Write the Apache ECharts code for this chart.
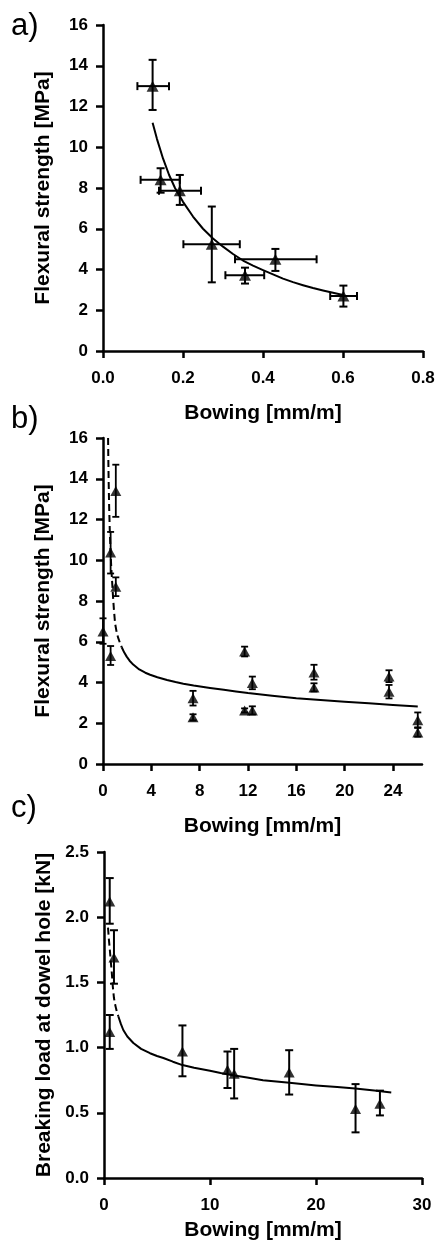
<!DOCTYPE html>
<html>
<head>
<meta charset="utf-8">
<script src="https://cdn.jsdelivr.net/npm/echarts@6/dist/echarts.min.js"></script>
<style>
  html, body { margin: 0; padding: 0; background: #fff; }
  #chart { width: 439px; height: 1253px; }
</style>
</head>
<body>
<div id="chart"></div>
<script>
// panel a: flexural strength vs bowing (lab samples)
const aX = [0.124, 0.144, 0.192, 0.272, 0.355, 0.431, 0.601];
const aY = [13.0, 8.4, 7.87, 5.24, 3.72, 4.5, 2.7];
const aYLow = [11.83, 7.77, 7.17, 3.37, 3.31, 3.93, 2.18];
const aYHigh = [14.29, 8.97, 8.64, 7.09, 4.09, 5.01, 3.21];
const aXLow = [0.086, 0.094, 0.14, 0.201, 0.306, 0.33, 0.568];
const aXHigh = [0.165, 0.192, 0.245, 0.342, 0.403, 0.534, 0.635];
const aFitX = [0.124, 0.135, 0.15, 0.165, 0.18, 0.2, 0.225, 0.25, 0.275, 0.3, 0.325, 0.35, 0.375, 0.4, 0.425, 0.45, 0.475, 0.5, 0.525, 0.55, 0.575, 0.6];
const aFitY = [11.2, 10.4, 9.45, 8.65, 8.0, 7.32, 6.6, 6.0, 5.52, 5.12, 4.76, 4.44, 4.19, 3.97, 3.76, 3.55, 3.38, 3.23, 3.09, 2.97, 2.86, 2.75];

// panel b: flexural strength vs bowing (field samples)
const bX = [0, 0.63, 0.63, 1.06, 1.06, 7.45, 7.45, 11.72, 11.72, 12.36, 12.36, 17.46, 17.46, 23.67, 23.67, 26.05, 26.05];
const bY = [6.5, 5.3, 10.38, 13.4, 8.7, 3.23, 2.29, 5.52, 2.63, 3.97, 2.63, 4.49, 3.76, 4.3, 3.55, 2.15, 1.55];
const bYLow = [5.9, 4.86, 9.35, 12.13, 8.24, 2.87, 2.14, 5.28, 2.53, 3.67, 2.43, 4.14, 3.56, 4.02, 3.22, 1.77, 1.34];
const bYHigh = [7.15, 5.79, 11.39, 14.69, 9.16, 3.59, 2.44, 5.76, 2.73, 4.29, 2.83, 4.87, 3.96, 4.6, 3.88, 2.53, 1.8];
const bDashX = [0.42, 0.44, 0.47, 0.51, 0.56, 0.62, 0.68, 0.75, 0.82, 0.9, 1.0, 1.12, 1.25, 1.4, 1.55];
const bDashY = [16, 15, 13.8, 12.6, 11.5, 10.5, 9.7, 9.0, 8.3, 7.6, 6.9, 6.5, 6.2, 5.95, 5.73];
const bFitX = [1.55, 1.75, 1.96, 2.2, 2.5, 3.0, 3.5, 3.9, 4.5, 5.3, 6.0, 6.65, 7.5, 8.86, 10, 11, 12, 14, 16, 18, 20, 22, 24, 26.05];
const bFitY = [5.73, 5.48, 5.27, 5.07, 4.88, 4.64, 4.48, 4.38, 4.26, 4.12, 4.02, 3.94, 3.85, 3.73, 3.64, 3.56, 3.48, 3.35, 3.23, 3.14, 3.06, 2.98, 2.9, 2.82];
const bXTicks = [0, 4, 8, 12, 16, 20, 24];

// panel c: breaking load at dowel hole vs bowing
const cX = [0.54, 0.94, 0.54, 7.4, 11.65, 12.28, 17.47, 23.73, 26.03];
const cY = [2.12, 1.69, 1.12, 0.97, 0.83, 0.8, 0.81, 0.53, 0.57];
const cYLow = [1.95, 1.49, 0.99, 0.78, 0.69, 0.61, 0.64, 0.35, 0.48];
const cYHigh = [2.3, 1.9, 1.25, 1.17, 0.97, 0.99, 0.98, 0.72, 0.67];
const cDashX = [0.38, 0.46, 0.55, 0.64, 0.73, 0.83, 0.94, 1.05, 1.15, 1.25, 1.35];
const cDashY = [1.92, 1.83, 1.75, 1.66, 1.58, 1.47, 1.38, 1.33, 1.295, 1.265, 1.24];
const cFitX = [1.35, 1.6, 1.82, 2.2, 2.77, 3.5, 4.34, 5.0, 5.6, 6.5, 7.4, 8.5, 10, 11, 12, 13.5, 15, 17.5, 20, 22, 23.7, 25.5, 27.1];
const cFitY = [1.24, 1.18, 1.135, 1.085, 1.035, 0.99, 0.957, 0.936, 0.92, 0.892, 0.866, 0.845, 0.822, 0.805, 0.79, 0.77, 0.75, 0.73, 0.71, 0.697, 0.686, 0.671, 0.656];

const FONT = 'Liberation Sans, Arial, Helvetica, sans-serif';
const BLACK = '#000';

const zip = (xs, ys) => xs.map((x, i) => [x, ys[i]]);

const errData = (xs, ys, lo, hi, xlo, xhi) =>
  xs.map((x, i) => xlo ? [x, ys[i], lo[i], hi[i], xlo[i], xhi[i]] : [x, ys[i], lo[i], hi[i]]);

const errRender = (withX, cap, width) => (params, api) => {
  const x = api.value(0);
  const lo = api.coord([x, api.value(2)]);
  const hi = api.coord([x, api.value(3)]);
  const style = { stroke: BLACK, lineWidth: width };
  const kids = [
    { type: 'line', shape: { x1: lo[0], y1: lo[1], x2: hi[0], y2: hi[1] }, style },
    { type: 'line', shape: { x1: hi[0] - cap, y1: hi[1], x2: hi[0] + cap, y2: hi[1] }, style },
    { type: 'line', shape: { x1: lo[0] - cap, y1: lo[1], x2: lo[0] + cap, y2: lo[1] }, style }
  ];
  if (withX) {
    const y = api.value(1);
    const l = api.coord([api.value(4), y]);
    const r = api.coord([api.value(5), y]);
    kids.push(
      { type: 'line', shape: { x1: l[0], y1: l[1], x2: r[0], y2: r[1] }, style },
      { type: 'line', shape: { x1: l[0], y1: l[1] - cap, x2: l[0], y2: l[1] + cap }, style },
      { type: 'line', shape: { x1: r[0], y1: r[1] - cap, x2: r[0], y2: r[1] + cap }, style }
    );
  }
  return { type: 'group', children: kids };
};

const axisLine = { lineStyle: { color: BLACK, width: 2.5 } };
const axisTick = { length: 7, lineStyle: { color: BLACK, width: 2.5 } };
const label = { color: BLACK, fontSize: 17, fontWeight: 'bold', fontFamily: FONT };
const nameStyle = { color: BLACK, fontSize: 21, fontWeight: 'bold', fontFamily: FONT };

function xAxis(grid, max, interval, gap, fmt, ticks) {
  const ax = {
    type: 'value', gridIndex: grid, min: 0, max: max, interval: interval,
    axisLine, splitLine: { show: false },
    axisTick: Object.assign({}, axisTick),
    axisLabel: Object.assign({ margin: 19, formatter: fmt }, label),
    name: 'Bowing [mm/m]', nameLocation: 'middle', nameGap: gap, nameTextStyle: nameStyle
  };
  if (ticks) {
    ax.axisTick.customValues = ticks;
    ax.axisLabel.customValues = ticks;
  }
  return ax;
}

function yAxis(grid, max, interval, name, fmt) {
  return {
    type: 'value', gridIndex: grid, min: 0, max: max, interval: interval,
    axisLine, axisTick, splitLine: { show: false },
    axisLabel: Object.assign({ margin: 15, formatter: fmt }, label),
    name: name, nameLocation: 'middle', nameGap: 49, nameTextStyle: nameStyle
  };
}

function tri(idx, xs, ys, size) {
  return {
    type: 'scatter', xAxisIndex: idx, yAxisIndex: idx, data: zip(xs, ys),
    symbol: 'triangle', symbolSize: size, itemStyle: { color: BLACK }, z: 5
  };
}

function curve(idx, xs, ys, dashed) {
  return {
    type: 'line', xAxisIndex: idx, yAxisIndex: idx, data: zip(xs, ys),
    showSymbol: false, smooth: false, z: 3,
    lineStyle: { color: BLACK, width: 2, type: dashed ? [7, 4] : 'solid', join: 'round' }
  };
}

function errors(idx, data, withX, cap, width) {
  return {
    type: 'custom', xAxisIndex: idx, yAxisIndex: idx, data: data,
    renderItem: errRender(withX, cap, width), encode: { x: 0, y: 1 }, z: 4
  };
}

const chart = echarts.init(document.getElementById('chart'), null, { renderer: 'canvas' });
chart.setOption({
  backgroundColor: '#fff',
  animation: false,
  grid: [
    { left: 103, top: 25, width: 320, height: 326 },
    { left: 103, top: 438, width: 319, height: 326 },
    { left: 104, top: 852, width: 318, height: 326 }
  ],
  xAxis: [
    xAxis(0, 0.8, 0.2, 52, v => v.toFixed(1)),
    xAxis(1, 26.4, 4, 52, v => String(v), bXTicks),
    xAxis(2, 30, 10, 42, v => String(v))
  ],
  yAxis: [
    yAxis(0, 16, 2, 'Flexural strength [MPa]', v => String(v)),
    yAxis(1, 16, 2, 'Flexural strength [MPa]', v => String(v)),
    yAxis(2, 2.5, 0.5, 'Breaking load at dowel hole [kN]', v => v.toFixed(1))
  ],
  graphic: [
    { type: 'text', left: 11, top: 11, style: { text: 'a)', font: '31px ' + FONT, fill: BLACK } },
    { type: 'text', left: 11, top: 404, style: { text: 'b)', font: '31px ' + FONT, fill: BLACK } },
    { type: 'text', left: 11, top: 793, style: { text: 'c)', font: '31px ' + FONT, fill: BLACK } }
  ],
  series: [
    curve(0, aFitX, aFitY, false),
    errors(0, errData(aX, aY, aYLow, aYHigh, aXLow, aXHigh), true, 4, 2),
    tri(0, aX, aY, [12, 11]),

    curve(1, bDashX, bDashY, true),
    curve(1, bFitX, bFitY, false),
    errors(1, errData(bX, bY, bYLow, bYHigh), false, 3.5, 1.8),
    tri(1, bX, bY, [11, 10]),

    curve(2, cDashX, cDashY, true),
    curve(2, cFitX, cFitY, false),
    errors(2, errData(cX, cY, cYLow, cYHigh), false, 4, 2),
    tri(2, cX, cY, [11, 10])
  ]
});
</script>
</body>
</html>
